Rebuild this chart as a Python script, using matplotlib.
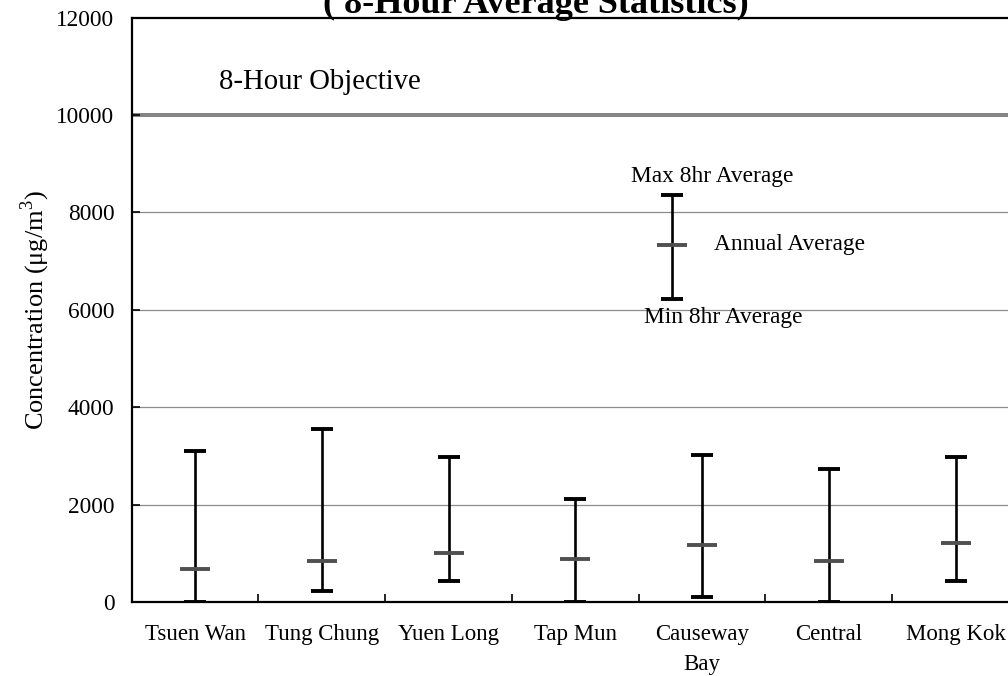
import matplotlib
matplotlib.use("Agg")
import matplotlib.pyplot as plt
import numpy as np

# ---- data ----
stations = ["Tsuen Wan", "Tung Chung", "Yuen Long", "Tap Mun", "Causeway\nBay", "Central", "Mong Kok"]
max_8hr = [3100, 3545, 2971, 2108, 3018, 2724, 2971]
annual_avg = [677, 842, 1006, 883, 1170, 842, 1211]
min_8hr = [10, 226, 425, 10, 103, 10, 425]

objective = 10000
objective_label = "8-Hour Objective"

# legend sample (key drawn inside plot)
key_x = 3.76
key_max, key_avg, key_min = 8356, 7329, 6220

yticks = [0, 2000, 4000, 6000, 8000, 10000, 12000]

plt.rcParams['font.family'] = ['Liberation Serif', 'DejaVu Serif']
plt.rcParams['mathtext.fontset'] = 'custom'
plt.rcParams['mathtext.rm'] = 'Liberation Serif'

fig = plt.figure(figsize=(10.08, 6.76), dpi=100)
ax = fig.add_axes([131.7/1008, (676-602)/676, (1019-131.7)/1008, (602-17.5)/676])

x = np.arange(len(stations))

# grid
for yv in yticks[1:-1]:
    if yv != objective:
        ax.axhline(yv, color='#8c8c8c', lw=0.9, zorder=0)
ax.axhline(objective, color='#858585', lw=2.9, zorder=1)

def draw_bar(xs, mx, av, mn):
    ax.vlines(xs, mn, mx, color='black', lw=1.9, zorder=3)
    ax.plot(xs, mx, ls='none', marker='_', ms=15.5, mew=2.8, color='black', zorder=4)
    ax.plot(xs, mn, ls='none', marker='_', ms=15.5, mew=2.8, color='black', zorder=4)
    ax.plot(xs, av, ls='none', marker='_', ms=22, mew=2.8, color='#505050', zorder=5)

draw_bar(x, max_8hr, annual_avg, min_8hr)
draw_bar([key_x], [key_max], [key_avg], [key_min])

ax.text(3.44, 8624, "Max 8hr Average", fontsize=16.8, va='baseline', ha='left')
ax.text(4.094, 7225, "Annual Average", fontsize=16.8, va='baseline', ha='left')
ax.text(3.543, 5722, "Min 8hr Average", fontsize=16.8, va='baseline', ha='left')
ax.text(0.185, 10539, objective_label, fontsize=20.7, va='baseline', ha='left')

ax.set_xlim(-0.5, len(stations) - 0.5)
ax.set_ylim(0, 12000)
ax.set_yticks(yticks)
ax.set_yticklabels([str(v) for v in yticks], fontsize=16.8)
ax.set_xticks(x)
ax.set_xticklabels(stations, fontsize=16.5, linespacing=1.55)
ax.set_xticks(np.arange(0.5, len(stations) - 0.5), minor=True)
ax.tick_params(axis='x', which='major', length=0, pad=16)
ax.tick_params(axis='x', which='minor', direction='in', length=6, width=1.2)
ax.tick_params(axis='y', direction='in', length=6, width=1.2, pad=12.5)

for s in ax.spines.values():
    s.set_linewidth(1.6)
    s.set_color('black')

ax.set_ylabel("Concentration (μg/m$^{3}$)", fontsize=19, labelpad=3)

fig.text(536/1008, 1 - 13/676, "( 8-Hour Average Statistics)", fontsize=26,
         fontweight='bold', ha='center', va='baseline')

fig.savefig("out.png", dpi=100)
